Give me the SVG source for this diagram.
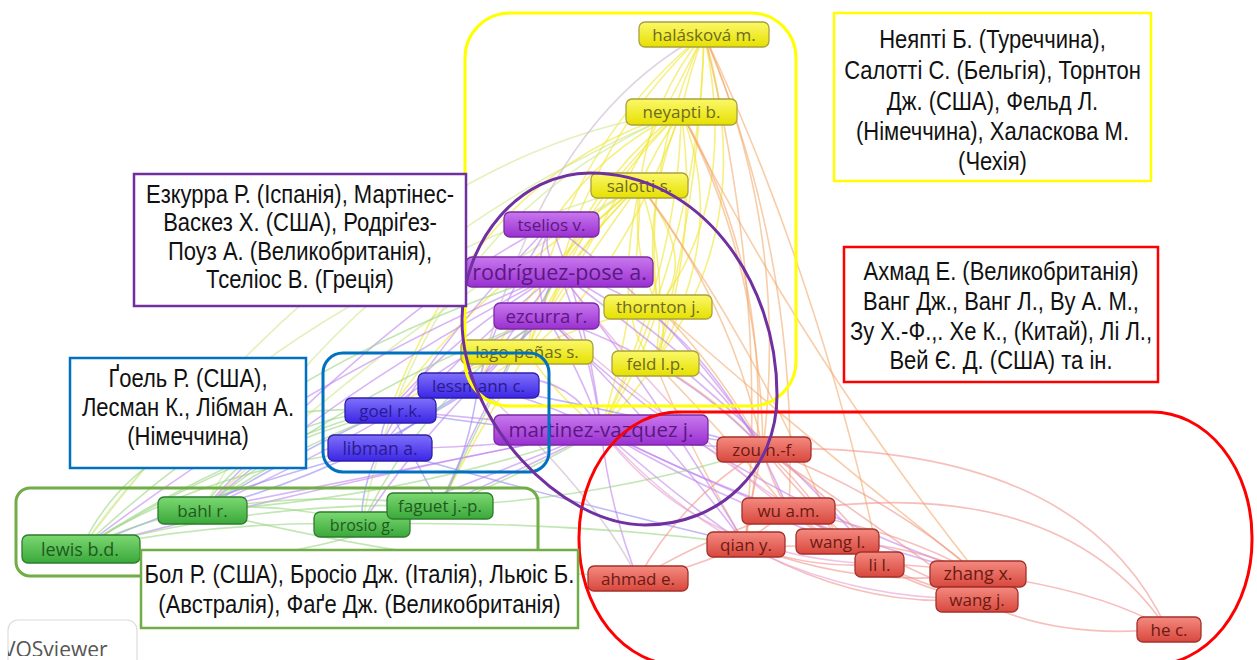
<svg xmlns="http://www.w3.org/2000/svg" width="1257" height="660" viewBox="0 0 1257 660">
<defs>
  <linearGradient id="gy" x1="0" y1="0" x2="0" y2="1"><stop offset="0" stop-color="#fbf86a"/><stop offset="1" stop-color="#e6e000"/></linearGradient>
  <linearGradient id="gp" x1="0" y1="0" x2="0" y2="1"><stop offset="0" stop-color="#c878ee"/><stop offset="1" stop-color="#9a30d0"/></linearGradient>
  <linearGradient id="gb" x1="0" y1="0" x2="0" y2="1"><stop offset="0" stop-color="#7f70fa"/><stop offset="1" stop-color="#3c26e6"/></linearGradient>
  <linearGradient id="gg" x1="0" y1="0" x2="0" y2="1"><stop offset="0" stop-color="#7cd872"/><stop offset="1" stop-color="#3aa83a"/></linearGradient>
  <linearGradient id="gr" x1="0" y1="0" x2="0" y2="1"><stop offset="0" stop-color="#f48a80"/><stop offset="1" stop-color="#d8483e"/></linearGradient>
  <clipPath id="logoclip"><rect x="8" y="620" width="129" height="36"/></clipPath>
  <style>
    .edges path{fill:none;stroke-width:1.6;stroke-opacity:.6}
    .y{stroke:#f0e62e}.yg{stroke:#cfe88a}.o{stroke:#f4ac70}.p{stroke:#c083ee}.b{stroke:#968af2}
    .g{stroke:#9bd684}.r{stroke:#f0948e}.pk{stroke:#e69ed0}.gr{stroke:#c9b5cc}
    .node rect{stroke-width:1.3}
    .node text{font-family:"Open Sans","DejaVu Sans",sans-serif;text-anchor:middle}
    .ny rect{fill:url(#gy);stroke:#a9a13c}.ny text{fill:#6e6a22}
    .np rect{fill:url(#gp);stroke:#7b2aa2}.np text{fill:#5a1882}
    .nb rect{fill:url(#gb);stroke:#2e20a8}.nb text{fill:#2a1a92}
    .ng rect{fill:url(#gg);stroke:#2c7c2c}.ng text{fill:#1f5a1f}
    .nr rect{fill:url(#gr);stroke:#a4302a}.nr text{fill:#6c1a12}
    .cl{fill:none;stroke-width:3}
    .tb rect{fill:#fff;stroke-width:2.5}
    .tb text{font-family:"Liberation Sans",Arial,sans-serif;font-size:25px;fill:#111;text-anchor:middle}
  </style>
</defs>
<rect width="1257" height="660" fill="#fff"/>

<!-- links between authors -->
<g id="connectors" class="edges">
  <g class="y">
    <path d="M704 34Q690 70 681 112"/><path d="M704 34Q650 100 640 185"/><path d="M704 34Q640 170 658 307"/>
    <path d="M704 34Q700 200 655 363"/><path d="M704 34Q560 150 527 352"/><path d="M704 34Q700 240 601 430"/>
    <path d="M704 34Q600 130 559 272"/><path d="M704 34Q620 200 546 316"/><path d="M681 112Q655 150 640 185"/>
    <path d="M681 112Q640 210 658 307"/><path d="M681 112Q700 240 655 363"/><path d="M681 112Q570 210 527 352"/>
    <path d="M681 112Q590 200 546 316"/><path d="M681 112Q600 170 559 272"/><path d="M681 112Q600 150 551 224"/>
    <path d="M681 112Q680 260 601 430"/><path d="M681 112Q480 170 390 410"/><path d="M640 185Q630 250 658 307"/>
    <path d="M640 185Q670 270 655 363"/><path d="M640 185Q560 260 527 352"/><path d="M640 185Q580 240 546 316"/>
    <path d="M640 185Q590 220 559 272"/><path d="M640 185Q640 300 601 430"/><path d="M640 185Q530 270 478 385"/>
    <path d="M640 185Q480 280 390 410"/><path d="M640 185Q520 350 440 506"/><path d="M658 307Q670 335 655 363"/>
    <path d="M658 307Q640 370 601 430"/><path d="M658 307Q590 320 527 352"/><path d="M655 363Q630 400 601 430"/>
    <path d="M527 352Q560 400 601 430"/><path d="M527 352Q500 370 478 385"/><path d="M527 352Q450 370 390 410"/>
    <path d="M704 34Q740 200 658 307"/><path d="M681 112Q730 230 655 363"/><path d="M704 34Q760 220 655 363"/>
    <path d="M640 185Q700 260 658 307"/><path d="M681 112Q620 280 527 352"/><path d="M640 185Q610 320 655 363"/>
  </g>
  <g class="yg">
    <path d="M681 112Q380 150 81 549"/><path d="M681 112Q350 250 202 510"/>
    <path d="M640 185Q400 320 202 510"/><path d="M640 185Q250 300 81 549"/>
    <path d="M681 112Q420 220 362 524"/>
  </g>
  <g class="o">
    <path d="M704 34Q790 230 763 449"/><path d="M704 34Q800 260 789 511"/><path d="M681 112Q760 260 763 449"/>
    <path d="M681 112Q790 300 745 544"/><path d="M640 185Q730 300 763 449"/><path d="M658 307Q720 370 763 449"/>
    <path d="M655 363Q720 400 763 449"/><path d="M655 363Q730 440 789 511"/><path d="M655 363Q690 450 745 544"/>
    <path d="M704 34Q820 280 880 564"/><path d="M681 112Q800 350 978 574"/><path d="M640 185Q760 350 838 541"/>
    <path d="M658 307Q760 400 978 574"/><path d="M704 34Q770 300 745 544"/>
  </g>
  <g class="p">
    <path d="M551 224Q540 250 559 272"/><path d="M551 224Q530 270 546 316"/><path d="M551 224Q590 330 601 430"/>
    <path d="M551 224Q500 300 478 385"/><path d="M559 272Q540 295 546 316"/><path d="M559 272Q590 350 601 430"/>
    <path d="M559 272Q510 330 478 385"/><path d="M559 272Q460 330 390 410"/><path d="M559 272Q450 360 380 448"/>
    <path d="M559 272Q690 340 763 449"/><path d="M559 272Q350 380 202 510"/><path d="M559 272Q300 380 81 549"/>
    <path d="M559 272Q480 410 440 506"/><path d="M546 316Q580 370 601 430"/><path d="M546 316Q510 350 478 385"/>
    <path d="M546 316Q460 350 390 410"/><path d="M546 316Q680 360 763 449"/><path d="M546 316Q430 420 362 524"/>
    <path d="M601 430Q680 430 763 449"/><path d="M601 430Q700 480 789 511"/><path d="M601 430Q680 500 745 544"/>
    <path d="M601 430Q720 500 838 541"/><path d="M601 430Q540 400 478 385"/><path d="M601 430Q500 420 390 410"/>
    <path d="M601 430Q490 450 380 448"/><path d="M601 430Q520 470 440 506"/><path d="M601 430Q480 480 362 524"/>
    <path d="M601 430Q400 470 202 510"/><path d="M601 430Q340 480 81 549"/><path d="M601 430Q800 530 978 574"/>
    <path d="M601 430Q610 510 638 579"/><path d="M546 316Q660 430 745 544"/><path d="M559 272Q660 400 745 544"/>
    <path d="M551 224Q680 320 763 449"/><path d="M559 272Q760 420 880 564"/><path d="M546 316Q700 480 978 574"/>
    <path d="M551 224Q400 300 202 510"/><path d="M559 272Q700 300 789 511"/><path d="M546 316Q400 420 202 510"/>
    <path d="M551 224Q420 360 380 448"/><path d="M601 430Q560 360 478 385"/>
  </g>
  <g class="b">
    <path d="M478 385Q430 390 390 410"/><path d="M478 385Q430 410 380 448"/><path d="M390 410Q380 430 380 448"/>
    <path d="M390 410Q420 470 440 506"/><path d="M380 448Q360 490 362 524"/><path d="M478 385Q470 450 440 506"/>
    <path d="M390 410Q300 450 202 510"/><path d="M380 448Q220 490 81 549"/><path d="M390 410Q580 440 763 449"/>
    <path d="M478 385Q620 410 763 449"/><path d="M380 448Q560 500 745 544"/><path d="M478 385Q350 470 202 510"/>
  </g>
  <g class="g">
    <path d="M81 549Q140 520 202 510"/><path d="M81 549Q220 520 362 524"/><path d="M81 549Q260 500 440 506"/>
    <path d="M202 510Q280 500 362 524"/><path d="M202 510Q320 490 440 506"/><path d="M362 524Q400 510 440 506"/>
    <path d="M81 549Q220 460 390 410"/><path d="M81 549Q260 430 478 385"/><path d="M202 510Q330 420 478 385"/>
    <path d="M202 510Q350 390 546 316"/><path d="M81 549Q280 360 559 272"/><path d="M202 510Q400 500 601 430"/>
    <path d="M440 506Q600 500 763 449"/><path d="M362 524Q560 520 745 544"/><path d="M81 549Q300 600 601 430"/>
    <path d="M202 510Q400 560 638 579"/><path d="M81 549Q150 400 390 410"/><path d="M440 506Q500 380 559 272"/>
    <path d="M362 524Q420 400 546 316"/><path d="M81 549Q200 470 380 448"/><path d="M202 510Q260 420 390 410"/>
  </g>
  <g class="r">
    <path d="M763 449Q770 480 789 511"/><path d="M763 449Q750 500 745 544"/><path d="M763 449Q810 490 838 541"/>
    <path d="M763 449Q840 500 880 564"/><path d="M763 449Q880 490 978 574"/><path d="M763 449Q870 520 977 599"/>
    <path d="M763 449Q1080 440 1167 629"/><path d="M763 449Q680 500 638 579"/><path d="M789 511Q760 530 745 544"/>
    <path d="M789 511Q810 530 838 541"/><path d="M789 511Q840 535 880 564"/><path d="M789 511Q900 530 978 574"/>
    <path d="M789 511Q890 560 977 599"/><path d="M789 511Q1060 470 1167 629"/><path d="M745 544Q790 550 838 541"/>
    <path d="M745 544Q810 570 880 564"/><path d="M745 544Q860 590 978 574"/><path d="M745 544Q860 610 977 599"/>
    <path d="M745 544Q690 570 638 579"/><path d="M838 541Q860 555 880 564"/><path d="M838 541Q910 545 978 574"/>
    <path d="M838 541Q900 580 977 599"/><path d="M880 564Q930 565 978 574"/><path d="M880 564Q920 590 977 599"/>
    <path d="M978 574Q980 586 977 599"/><path d="M977 599Q1050 640 1167 629"/><path d="M978 574Q1100 590 1167 629"/>
    <path d="M638 579Q700 540 789 511"/><path d="M763 449Q820 520 880 564"/>
  </g>
  <g class="pk">
    <path d="M601 430Q700 560 880 564"/><path d="M601 430Q750 600 977 599"/>
    <path d="M559 272Q720 480 838 541"/><path d="M546 316Q720 470 880 564"/>
  </g>
  <g class="gr">
    <path d="M704 34Q540 120 478 385"/><path d="M638 579Q600 500 478 385"/>
  </g>
</g>

<!-- author nodes -->
<g id="n-halaskova" class="node ny"><rect x="639" y="22" width="130" height="25" rx="6"/><text x="704" y="40.5" font-size="17">halásková m.</text></g>
<g id="n-neyapti" class="node ny"><rect x="626" y="99" width="111" height="26" rx="6"/><text x="681.5" y="118" font-size="17">neyapti b.</text></g>
<g id="n-salotti" class="node ny"><rect x="591" y="173" width="97" height="25" rx="6"/><text x="639.5" y="191.5" font-size="17">salotti s.</text></g>
<g id="n-tselios" class="node np"><rect x="504" y="212" width="95" height="25" rx="6"/><text x="551.5" y="230.5" font-size="17">tselios v.</text></g>
<g id="n-rodriguez" class="node np"><rect x="466" y="257" width="187" height="30" rx="6"/><text x="559.5" y="279.5" font-size="21.5">rodríguez-pose a.</text></g>
<g id="n-thornton" class="node ny"><rect x="604" y="295" width="108" height="24" rx="6"/><text x="658" y="313" font-size="17">thornton j.</text></g>
<g id="n-ezcurra" class="node np"><rect x="494" y="303" width="105" height="26" rx="6"/><text x="546.5" y="322.5" font-size="18.5">ezcurra r.</text></g>
<g id="n-lagopenas" class="node ny"><rect x="461" y="340" width="132" height="24" rx="6"/><text x="527" y="358" font-size="17">lago-peñas s.</text></g>
<g id="n-feld" class="node ny"><rect x="612" y="351" width="87" height="25" rx="6"/><text x="655.5" y="369.5" font-size="17">feld l.p.</text></g>
<g id="n-lessmann" class="node nb"><rect x="418" y="373" width="121" height="25" rx="6"/><text x="478.5" y="391.5" font-size="17">lessmann c.</text></g>
<g id="n-goel" class="node nb"><rect x="345" y="398" width="91" height="25" rx="6"/><text x="390.5" y="416.5" font-size="17">goel r.k.</text></g>
<g id="n-libman" class="node nb"><rect x="328" y="435" width="104" height="26" rx="6"/><text x="380" y="454.5" font-size="17.5">libman a.</text></g>
<g id="n-martinez" class="node np"><rect x="494" y="415" width="214" height="30" rx="6"/><text x="601" y="437" font-size="20.5">martinez-vazquez j.</text></g>
<g id="n-bahl" class="node ng"><rect x="158" y="497" width="89" height="27" rx="6"/><text x="202.5" y="516.5" font-size="17">bahl r.</text></g>
<g id="n-brosio" class="node ng"><rect x="314" y="512" width="96" height="25" rx="6"/><text x="362" y="530.5" font-size="16">brosio g.</text></g>
<g id="n-faguet" class="node ng"><rect x="387" y="493" width="106" height="26" rx="6"/><text x="440" y="512" font-size="17">faguet j.-p.</text></g>
<g id="n-lewis" class="node ng"><rect x="22" y="535" width="118" height="28" rx="6"/><text x="80" y="555.5" font-size="18">lewis b.d.</text></g>
<g id="n-zou" class="node nr"><rect x="717" y="437" width="94" height="25" rx="6"/><text x="764" y="455.5" font-size="17">zou h.-f.</text></g>
<g id="n-wu" class="node nr"><rect x="742" y="498" width="93" height="26" rx="6"/><text x="788.5" y="517" font-size="17">wu a.m.</text></g>
<g id="n-qian" class="node nr"><rect x="707" y="532" width="78" height="25" rx="6"/><text x="746" y="550.5" font-size="17">qian y.</text></g>
<g id="n-wangl" class="node nr"><rect x="796" y="529" width="83" height="25" rx="6"/><text x="837.5" y="547.5" font-size="17">wang l.</text></g>
<g id="n-lil" class="node nr"><rect x="855" y="552" width="49" height="25" rx="6"/><text x="879.5" y="570.5" font-size="17">li l.</text></g>
<g id="n-zhang" class="node nr"><rect x="930" y="561" width="96" height="26" rx="6"/><text x="978" y="580" font-size="18">zhang x.</text></g>
<g id="n-wangj" class="node nr"><rect x="936" y="587" width="82" height="25" rx="6"/><text x="977" y="605.5" font-size="17">wang j.</text></g>
<g id="n-ahmad" class="node nr"><rect x="588" y="566" width="100" height="25" rx="6"/><text x="638" y="584.5" font-size="17">ahmad e.</text></g>
<g id="n-he" class="node nr"><rect x="1137" y="617" width="64" height="25" rx="6"/><text x="1169" y="635.5" font-size="17">he c.</text></g>

<!-- cluster outlines -->
<g id="clusters">
  <rect id="c-yellow" class="cl" x="465" y="13" width="331" height="393" rx="45" stroke="#ffff00"/>
  <rect id="c-blue" class="cl" x="323" y="353" width="226" height="119" rx="20" stroke="#0070c0"/>
  <rect id="c-green" class="cl" x="16" y="488" width="522" height="88" rx="14" stroke="#70ad47"/>
  <rect id="c-red" class="cl" x="579" y="412" width="673" height="253" rx="100" ry="125" stroke="#ff0000"/>
  <path id="c-purple" class="cl" stroke="#7030a0" d="M590 173C700 173 777 280 777 395C777 470 720 525 645 525C560 525 462 420 462 320C462 240 520 173 590 173Z"/>
</g>

<!-- cluster captions -->
<g id="t-yellow" class="tb">
  <rect x="834" y="13" width="317" height="168" stroke="#ffff00"/>
  <g transform="translate(992.5 0) scale(0.88 1)">
    <text x="0" y="48">Неяпті Б. (Туреччина),</text>
    <text x="0" y="79">Салотті С. (Бельгія), Торнтон</text>
    <text x="0" y="110">Дж. (США), Фельд Л.</text>
    <text x="0" y="140">(Німеччина), Халаскова М.</text>
    <text x="0" y="170">(Чехія)</text>
  </g>
</g>
<g id="t-purple" class="tb">
  <rect x="134" y="174" width="332" height="132" stroke="#7030a0"/>
  <g transform="translate(300 0) scale(0.88 1)">
    <text x="0" y="203">Езкурра Р. (Іспанія), Мартінес-</text>
    <text x="0" y="231.5">Васкез Х. (США), Родріґез-</text>
    <text x="0" y="260">Поуз А. (Великобританія),</text>
    <text x="0" y="288.5">Тселіос В. (Греція)</text>
  </g>
</g>
<g id="t-red" class="tb">
  <rect x="844" y="247" width="314" height="135" stroke="#ff0000"/>
  <g transform="translate(1001 0) scale(0.88 1)">
    <text x="0" y="280">Ахмад Е. (Великобританія)</text>
    <text x="0" y="310">Ванг Дж., Ванг Л., Ву А. М.,</text>
    <text x="0" y="340">Зу Х.-Ф.,. Хе К., (Китай), Лі Л.,</text>
    <text x="0" y="369">Вей Є. Д. (США) та ін.</text>
  </g>
</g>
<g id="t-blue" class="tb">
  <rect x="70" y="358" width="236" height="110" stroke="#0070c0"/>
  <g transform="translate(188 0) scale(0.88 1)">
    <text x="0" y="387">Ґоель Р. (США),</text>
    <text x="0" y="416">Лесман К., Лібман А.</text>
    <text x="0" y="445">(Німеччина)</text>
  </g>
</g>
<g id="t-green" class="tb">
  <rect x="141" y="550" width="437" height="78" stroke="#70ad47"/>
  <g transform="translate(359.5 0) scale(0.88 1)">
    <text x="0" y="583">Бол Р. (США), Бросіо Дж. (Італія), Льюіс Б.</text>
    <text x="0" y="613">(Австралія), Фаґе Дж. (Великобританія)</text>
  </g>
</g>

<!-- software badge -->
<g id="logo">
  <rect x="8" y="620" width="129" height="60" rx="10" fill="#fff" stroke="#dcdcdc" stroke-width="1.2"/>
  <g clip-path="url(#logoclip)">
    <text x="3" y="657" font-family="Open Sans, DejaVu Sans, sans-serif" font-size="21" fill="#555">VOSviewer</text>
  </g>
</g>
</svg>
